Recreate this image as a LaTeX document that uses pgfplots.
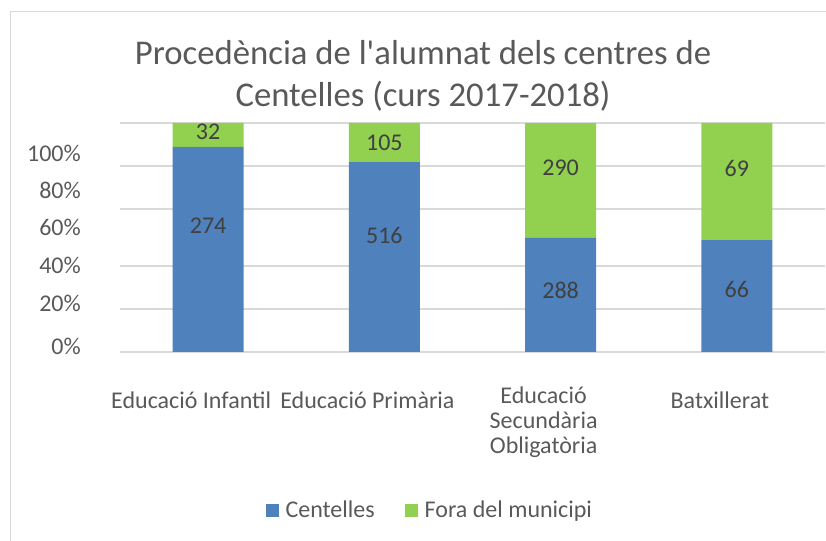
\documentclass[border=0pt]{standalone}
\usepackage{pgfplots}
\usepackage{pgfplotstable}
\pgfplotsset{compat=1.18}
\usepackage{fontspec}
\setmainfont{Carlito}
\definecolor{cblue}{HTML}{4F81BD}
\definecolor{cgreen}{HTML}{92D050}
\definecolor{tgray}{HTML}{595959}
\definecolor{lgray}{HTML}{404040}
\definecolor{ggray}{HTML}{D9D9D9}
\newcommand{\sq}{\XeTeXglyph\XeTeXcharglyph"0027\relax}

\pgfplotstableread{
x cent fora
0 274 32
1 516 105
2 288 290
3 66 69
}\data
\pgfplotstablecreatecol[expr={100*\thisrow{cent}/(\thisrow{cent}+\thisrow{fora})}]{pc}\data
\pgfplotstablecreatecol[expr={100*\thisrow{fora}/(\thisrow{cent}+\thisrow{fora})}]{pf}\data

\pgfplotstableread{
x y lab
0 96.1 32
0 55.0 274
1 91.3 105
1 50.7 516
2 80.3 290
2 27.1 288
3 80.3 69
3 27.1 66
}\labels

\begin{document}
\begin{tikzpicture}
\path[use as bounding box] (0bp,0bp) rectangle (826bp,541bp);
\draw[ggray, line width=1bp] (10bp,0bp) -- (10bp,529bp) -- (826bp,529bp);
\node[align=center, font=\fontsize{34.7bp}{42bp}\selectfont, text=tgray] at (423bp,465bp) {Procedència de l\sq alumnat dels centres de\\Centelles (curs 2017-2018)};
\begin{axis}[
 at={(120bp,189bp)}, anchor=south west, scale only axis,
 width=705bp, height=229bp,
 xmin=-0.5, xmax=3.5, ymin=0, ymax=100,
 ybar stacked, bar width=71bp,
 axis line style={draw=none}, major tick length=0pt,
 xtick={0,1,2,3},
 xticklabels={Educació Infantil, Educació Primària, {\raisebox{5bp}{\begin{tabular}[t]{@{}c@{}}Educació\\Secundària\\Obligatòria\end{tabular}}}, Batxillerat},
 xticklabel style={font=\fontsize{24bp}{25bp}\selectfont, text=tgray, inner sep=0pt, anchor=base, xshift=-17bp, yshift=-56bp},
 ytick={2.6,21.4,38.0,54.6,70.7,86.9},
 yticklabels={0\%,20\%,40\%,60\%,80\%,100\%},
 yticklabel style={font=\fontsize{24bp}{27bp}\selectfont, text=tgray, inner sep=0pt, anchor=east, xshift=-39bp},
 extra y ticks={0,18.8,37.6,62.4,81.2,100},
 extra y tick labels={},
 extra y tick style={grid=major, major grid style={ggray, line width=1.5bp}},
 legend style={at={(axis description cs:0.438,-0.69)}, anchor=center, draw=none, fill=none, legend columns=2, font=\fontsize{24bp}{27bp}\selectfont, text=tgray, inner sep=0pt, nodes={inner sep=0pt}, /tikz/every odd column/.append style={column sep=7bp}, /tikz/every even column/.append style={column sep=30bp}},
 legend image code/.code={\fill[#1] (0bp,-6.5bp) rectangle (13bp,6.5bp);},
]
\addplot[fill=cblue, draw=none] table[x=x,y=pc]{\data};
\addplot[fill=cgreen, draw=none] table[x=x,y=pf]{\data};
\legend{Centelles, Fora del municipi}
\end{axis}
\begin{axis}[
 at={(120bp,189bp)}, anchor=south west, scale only axis,
 width=705bp, height=229bp,
 xmin=-0.5, xmax=3.5, ymin=0, ymax=100,
 hide axis, clip=false,
]
\addplot[draw=none, mark=none, nodes near coords, point meta=explicit symbolic,
 nodes near coords style={anchor=center, font=\fontsize{24bp}{27bp}\selectfont, text=lgray, inner sep=0pt}]
 table[x=x,y=y,meta=lab]{\labels};
\end{axis}
\end{tikzpicture}
\end{document}
